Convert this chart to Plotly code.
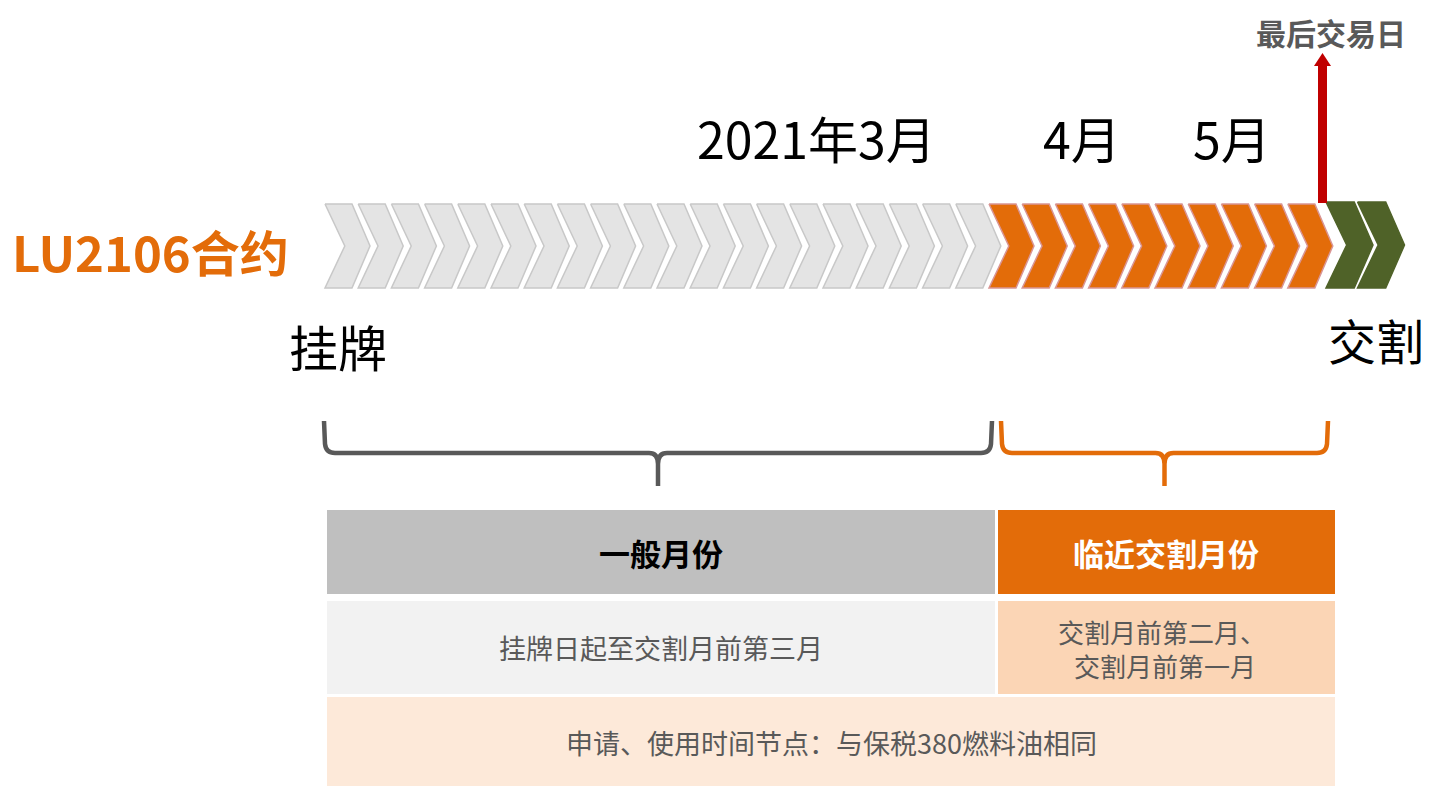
import plotly.graph_objects as go

W, H = 1429, 786
OFF = 8  # page body margin
FONT = "Microsoft YaHei, Noto Sans CJK SC, sans-serif"

# timeline segments (chevron counts per phase)
seg_names = ["一般月份", "临近交割月份", "交割月"]
seg_counts = [20, 10, 2]
seg_fill = ["#e4e4e4", "#e36c09", "#4f6228"]
seg_line = ["#c8c8c8", "#d99594", "#4f6228"]

# month labels above the timeline
month_labels = ["2021年3月", "4月", "5月"]
month_x = [816, 1082, 1232]

# table text
header_text = ["一般月份", "临近交割月份"]
row_text = ["挂牌日起至交割月前第三月", "交割月前第二月、<br> 交割月前第一月"]
footer_text = "申请、使用时间节点：与保税380燃料油相同"


def chevron(x0, w, top=204, bot=288):
    mid = (top + bot) / 2
    tail = w * 0.6
    notch = w * 0.44
    return ([x0, x0 + tail, x0 + w, x0 + tail, x0, x0 + notch, x0, None],
            [top, top, mid, bot, bot, mid, top, None])


fig = go.Figure()

x_start = 325
step = 33.2
idx = 0
for k, (name, n) in enumerate(zip(seg_names, seg_counts)):
    xs, ys = [], []
    for j in range(n):
        if k < 2:
            x0, w = x_start + idx * step, 45
        else:
            x0, w = 1326 + j * 31.5, 47
        cx, cy = chevron(x0, w, top=204 if k < 2 else 202, bot=288)
        xs += cx
        ys += cy
        idx += 1
    fig.add_trace(go.Scatter(x=xs, y=ys, mode="lines", fill="toself",
                             fillcolor=seg_fill[k],
                             line=dict(color=seg_line[k], width=1.5),
                             name=name, hoverinfo="skip"))

shapes = []


def brace(x1, x2, y1, y2, color):
    xm = (x1 + x2) / 2
    yh = y1 + 32
    r = 9
    p = (f"M {x1},{y1} L {x1 + 1},{yh - r} Q {x1 + 2},{yh} {x1 + r + 2},{yh} "
         f"L {xm - r},{yh} Q {xm},{yh} {xm},{yh + r + 2} L {xm},{y2} "
         f"M {xm},{yh + r + 2} Q {xm},{yh} {xm + r},{yh} "
         f"L {x2 - r - 2},{yh} Q {x2 - 2},{yh} {x2 - 1},{yh - r} L {x2},{y1}")
    return dict(type="path", path=p, line=dict(color=color, width=4.5), xref="x", yref="y")


shapes.append(brace(324, 992, 421, 486, "#595959"))
shapes.append(brace(1001, 1328, 421, 486, "#e36c09"))

# red arrow for last trading day
shapes.append(dict(type="rect", x0=1318, x1=1327, y0=64, y1=203, fillcolor="#c00000",
                   line=dict(width=0), xref="x", yref="y"))
shapes.append(dict(type="path", path="M 1314,66 L 1331,66 L 1322.5,53 Z", fillcolor="#c00000",
                   line=dict(width=0), xref="x", yref="y"))

# table
cells = [
    (327, 995, 510, 594, "#bfbfbf"),
    (998, 1335, 510, 594, "#e36c09"),
    (327, 995, 601, 694, "#f2f2f2"),
    (998, 1335, 601, 694, "#fbd5b5"),
    (327, 1335, 697, 800, "#fde9d9"),
]
for x0, x1, y0, y1, c in cells:
    shapes.append(dict(type="rect", x0=x0, x1=x1, y0=y0, y1=y1, fillcolor=c,
                       line=dict(width=0), xref="x", yref="y", layer="below"))

ann = []


def txt(x, y, s, size, color="#000000", bold=False, yanchor="middle"):
    ann.append(dict(x=x, y=y, text=f"<b>{s}</b>" if bold else s, showarrow=False,
                    font=dict(family=FONT, size=size, color=color),
                    xref="x", yref="y", xanchor="center", yanchor=yanchor))


txt(1331, OFF, "最后交易日", 30, "#595959", bold=True, yanchor="top")
for lab, x in zip(month_labels, month_x):
    txt(x, 137, lab, 50)
txt(150, 250, "LU2106合约", 49, "#e36c09", bold=True)
txt(338, 345, "挂牌", 49)
txt(1376, 339, "交割", 48)
txt(661, 552, header_text[0], 31, "#000000", bold=True)
txt(1166, 552, header_text[1], 31, "#ffffff", bold=True)
txt(661, 647, row_text[0], 27, "#595959")
txt(1162, 648, row_text[1], 26, "#595959")
txt(831, 742, footer_text, 27, "#595959")

fig.update_layout(
    width=W, height=H,
    margin=dict(l=0, r=0, t=0, b=0),
    paper_bgcolor="white", plot_bgcolor="white",
    showlegend=False,
    xaxis=dict(range=[OFF, W + OFF], visible=False, fixedrange=True),
    yaxis=dict(range=[H + OFF, OFF], visible=False, fixedrange=True),
    shapes=shapes, annotations=ann,
)

fig.write_html("out.html")
